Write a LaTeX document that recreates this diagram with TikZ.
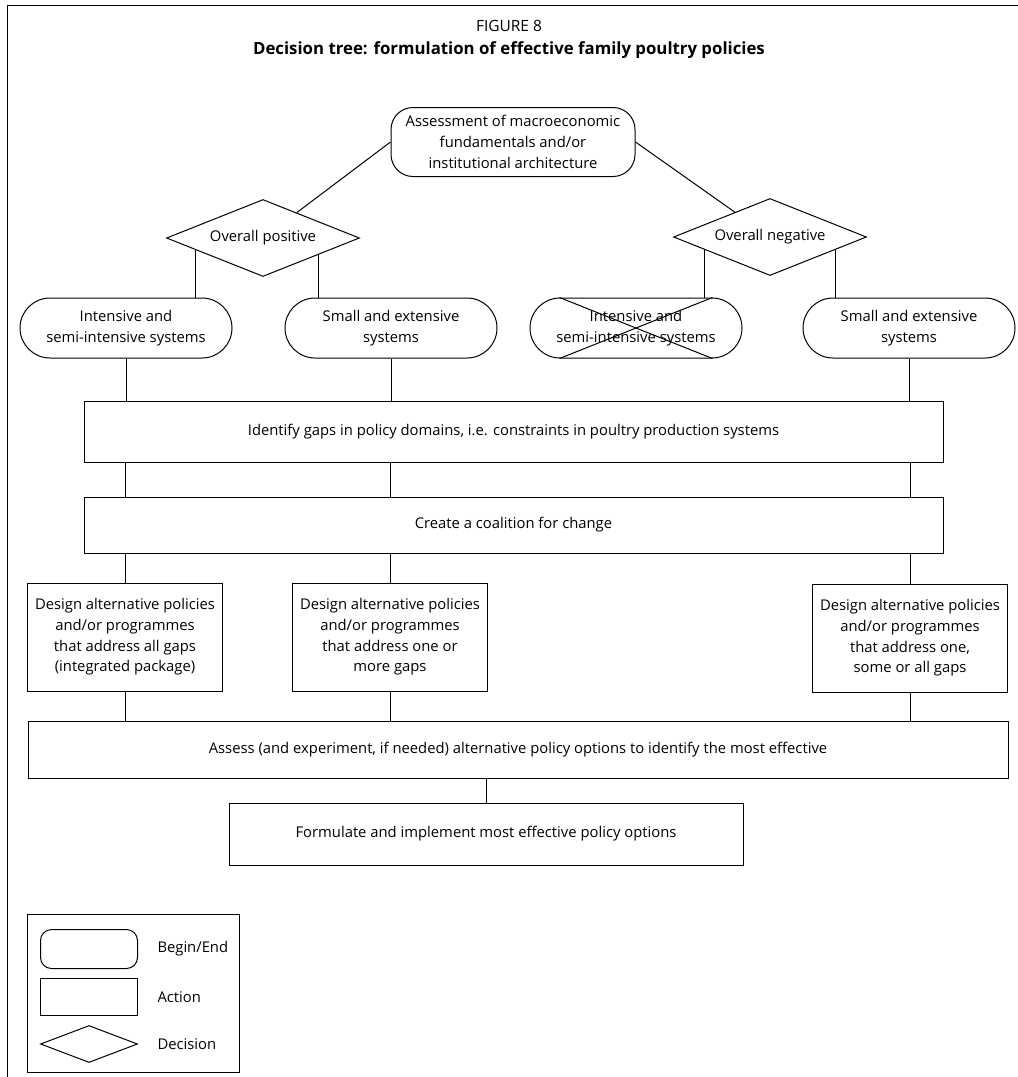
\documentclass[tikz,border=0pt]{standalone}
\usepackage{fontspec}
\setmainfont{Open Sans}
\usetikzlibrary{shapes.geometric,calc}

\begin{document}
\begin{tikzpicture}[x=1pt, y=-1pt, line width=1pt, font=\fontsize{14.8}{20.7}\selectfont]
  \tikzset{
    term/.style={draw, rounded corners=30pt, align=center, inner sep=0pt,
      minimum width=212pt, minimum height=60pt},
    act/.style={draw, align=center, inner sep=0pt},
    dec/.style={draw, diamond, aspect=2.5, inner sep=0pt,
      minimum width=193pt, minimum height=77pt},
    design/.style={act, minimum width=195pt, minimum height=108pt},
    wide/.style={act, minimum width=859pt}
  }
  \useasboundingbox (0,0) rectangle (1018,1077);
  % frame and heading
  \draw (1018,5) -- (7,5) -- (7,1077);
  \node[font=\fontsize{15.5}{18}\selectfont] (fig) at (509,26) {FIGURE 8};
  \node[font=\fontsize{16.8}{20}\selectfont\bfseries] (title) at (509,50)
    {Decision tree: formulation of effective family poultry policies};
  % top of the tree
  \node[term, rounded corners=22pt, minimum width=244pt, minimum height=69pt] (assess) at (513,142)
    {Assessment of macroeconomic\\fundamentals and/or\\institutional architecture};
  \node[dec] (pos) at (263,238) {Overall positive};
  \node[dec] (neg) at (770,237) {Overall negative};
  % production systems
  \node[term] (intA) at (126,328) {Intensive and\\semi-intensive systems};
  \node[term] (smlA) at (391,328) {Small and extensive\\systems};
  \node[term] (intB) at (636,328) {Intensive and\\semi-intensive systems};
  \node[term] (smlB) at (909,328) {Small and extensive\\systems};
  \draw ($(intB.north west)+(30,0)$) -- ($(intB.south east)+(-30,0)$);
  \draw ($(intB.north east)+(-30,0)$) -- ($(intB.south west)+(30,0)$);
  % actions
  \node[wide, minimum height=61pt] (gaps) at (513.5,432)
    {Identify gaps in policy domains, i.e. constraints in poultry production systems};
  \node[wide, minimum height=56pt] (coal) at (513.5,525) {Create a coalition for change};
  \node[design] (desA) at (125,637)
    {Design alternative policies\\and/or programmes\\that address all gaps\\(integrated package)};
  \node[design] (desB) at (390,637)
    {Design alternative policies\\and/or programmes\\that address one or\\more gaps};
  \node[design] (desC) at (910,638)
    {Design alternative policies\\and/or programmes\\that address one,\\some or all gaps};
  \node[act, minimum width=980pt, minimum height=57pt] (eval) at (518,750)
    {Assess (and experiment, if needed) alternative policy options to identify the most effective};
  \node[act, minimum width=514pt, minimum height=62pt] (form) at (486,834)
    {Formulate and implement most effective policy options};
  % connectors
  \draw (assess.west) -- (pos);
  \draw (assess.east) -- (neg);
  \draw (pos.190) -- (pos.190 |- intA.north);
  \draw (pos.343) -- (pos.343 |- smlA.north);
  \draw (neg.191) -- (neg.191 |- intB.north);
  \draw (neg.349) -- (neg.349 |- smlB.north);
  \foreach \sys in {intA,smlA,smlB}
    \draw (\sys.south) -- (\sys.south |- gaps.north);
  \foreach \des in {desA,desB,desC} {
    \draw (\des.north |- gaps.south) -- (\des.north |- coal.north);
    \draw (\des.north) -- (\des.north |- coal.south);
    \draw (\des.south) -- (\des.south |- eval.north);
  }
  \draw (form.north) -- (form.north |- eval.south);
  % key
  \node[draw, minimum width=212pt, minimum height=158pt] (key) at (133.5,993.3) {};
  \node[term, rounded corners=11pt, minimum width=97pt, minimum height=39pt] (kterm) at (89,949) {};
  \node[act, minimum width=97pt, minimum height=37pt] (kact) at (89,997) {};
  \node[dec, minimum width=97pt, minimum height=37pt] (kdec) at (89,1044) {};
  \node[anchor=west, inner sep=0pt] (lterm) at ([xshift=19pt]kterm.east) {Begin/End};
  \node[anchor=west, inner sep=0pt] (lact) at ([xshift=19pt]kact.east) {Action};
  \node[anchor=west, inner sep=0pt] (ldec) at ([xshift=19pt]kdec.east) {Decision};
\end{tikzpicture}
\end{document}
